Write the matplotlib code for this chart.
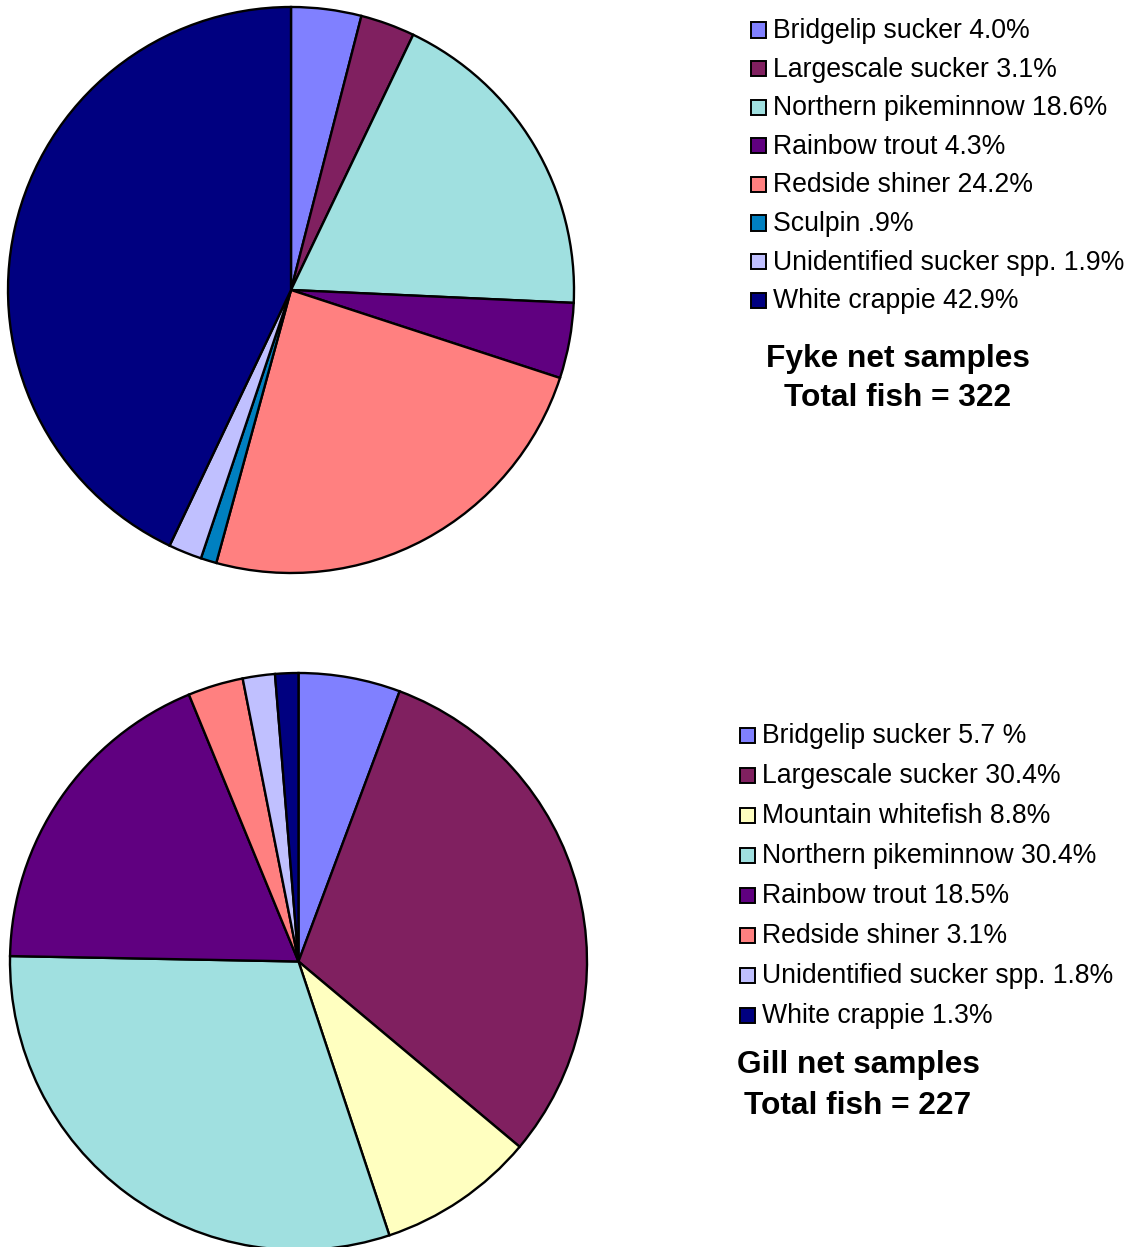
import matplotlib

matplotlib.use("Agg")
import matplotlib.pyplot as plt
from matplotlib.patches import Rectangle

plt.rcParams["font.family"] = ["Liberation Sans", "DejaVu Sans"]

# ── Data ──────────────────────────────────────────────────────────────────────

FYKE_SPECIES = [
    "Bridgelip sucker",
    "Largescale sucker",
    "Northern pikeminnow",
    "Rainbow trout",
    "Redside shiner",
    "Sculpin",
    "Unidentified sucker spp.",
    "White crappie",
]
FYKE_PCT = [4.0, 3.1, 18.6, 4.3, 24.2, 0.9, 1.9, 42.9]
FYKE_PCT_TEXT = ["4.0%", "3.1%", "18.6%", "4.3%", "24.2%", ".9%", "1.9%", "42.9%"]
FYKE_TOTAL = 322

GILL_SPECIES = [
    "Bridgelip sucker",
    "Largescale sucker",
    "Mountain whitefish",
    "Northern pikeminnow",
    "Rainbow trout",
    "Redside shiner",
    "Unidentified sucker spp.",
    "White crappie",
]
GILL_PCT = [5.7, 30.4, 8.8, 30.4, 18.5, 3.1, 1.8, 1.3]
GILL_PCT_TEXT = ["5.7 %", "30.4%", "8.8%", "30.4%", "18.5%", "3.1%", "1.8%", "1.3%"]
GILL_TOTAL = 227

# ── Style ─────────────────────────────────────────────────────────────────────

COLORS = {
    "Bridgelip sucker": "#8080FF",
    "Largescale sucker": "#802060",
    "Mountain whitefish": "#FFFFC0",
    "Northern pikeminnow": "#A0E0E0",
    "Rainbow trout": "#600080",
    "Redside shiner": "#FF8080",
    "Sculpin": "#0080C0",
    "Unidentified sucker spp.": "#C0C0FF",
    "White crappie": "#000080",
}

W, H = 1132, 1247
fig = plt.figure(figsize=(W / 100, H / 100), dpi=100)


def px_axes(cx, cy, r):
    """Axes whose [-1, 1] box covers a circle given in pixel coords (y down)."""
    ax = fig.add_axes([(cx - r) / W, (H - cy - r) / H, 2 * r / W, 2 * r / H])
    ax.set_aspect("equal")
    ax.axis("off")
    return ax


def draw_pie(cx, cy, r, species, pct):
    ax = px_axes(cx, cy, r)
    ax.pie(
        pct,
        colors=[COLORS[s] for s in species],
        startangle=90,
        counterclock=False,
        radius=1,
        normalize=True,
        wedgeprops=dict(edgecolor="black", linewidth=1.7),
    )
    ax.set_xlim(-1.0, 1.0)
    ax.set_ylim(-1.0, 1.0)


def draw_legend(x0, y0, dy, species, pct_text):
    for i, (s, p) in enumerate(zip(species, pct_text)):
        y = y0 + i * dy
        fig.patches.append(
            Rectangle(
                (x0 / W, (H - y - 7.5) / H),
                15 / W,
                15 / H,
                transform=fig.transFigure,
                facecolor=COLORS[s],
                edgecolor="black",
                linewidth=1.4,
            )
        )
        fig.text(
            (x0 + 22) / W,
            (H - y - 1) / H,
            f"{s} {p}",
            fontsize=19.2,
            ha="left",
            va="center",
        )


def draw_title(cx, y1, y2, name, total):
    fig.text(cx / W, (H - y1) / H, name, fontsize=22.8, fontweight="bold",
             ha="center", va="center")
    fig.text(cx / W, (H - y2) / H, f"Total fish = {total}", fontsize=22.8,
             fontweight="bold", ha="center", va="center")


draw_pie(291, 290, 283, FYKE_SPECIES, FYKE_PCT)
draw_pie(298.5, 961.5, 288.5, GILL_SPECIES, GILL_PCT)

draw_legend(751, 30, 38.6, FYKE_SPECIES, FYKE_PCT_TEXT)
draw_legend(740, 735, 40, GILL_SPECIES, GILL_PCT_TEXT)

draw_title(898, 359, 398, "Fyke net samples", FYKE_TOTAL)
draw_title(858, 1065, 1106, "Gill net samples", GILL_TOTAL)

fig.savefig("out.png", dpi=100)
